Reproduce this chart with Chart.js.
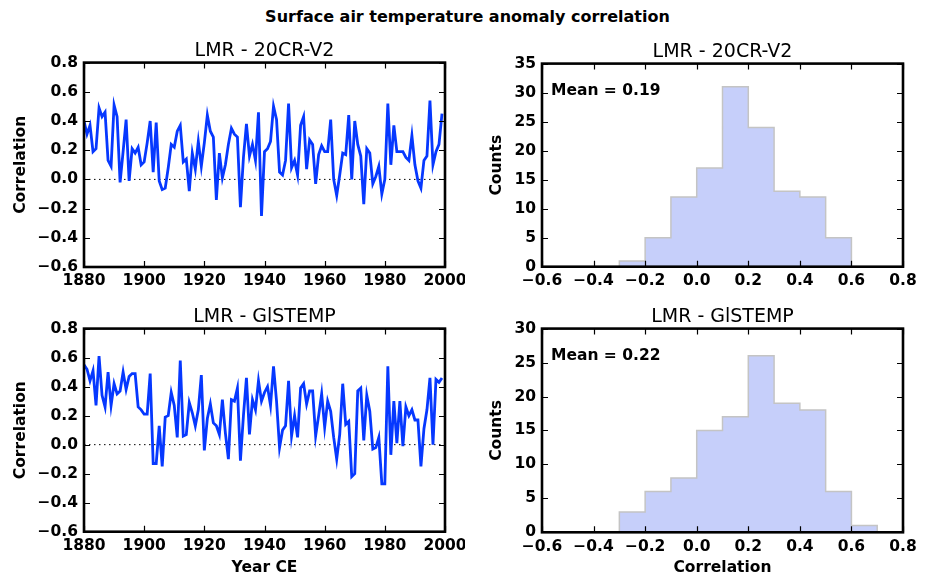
<!DOCTYPE html>
<html>
<head>
<meta charset="utf-8">
<script src="https://cdn.jsdelivr.net/npm/chart.js@4.4.1/dist/chart.umd.min.js"></script>
<style>
html, body { margin: 0; padding: 0; background: #fff; }
body { width: 925px; height: 579px; position: relative; overflow: hidden; font-family: "DejaVu Sans", sans-serif; }
#suptitle { position: absolute; left: 5px; width: 925px; top: 8px; line-height: 18px; text-align: center; font-weight: bold; font-size: 16px; color: #000; }
canvas { position: absolute; }
</style>
</head>
<body>
<div id="suptitle">Surface air temperature anomaly correlation</div>
<canvas id="lineTop" width="465" height="256" style="left:0px;top:34px"></canvas>
<canvas id="lineBottom" width="465" height="279" style="left:0px;top:300px"></canvas>
<canvas id="histTop" width="455" height="255" style="left:470px;top:35px"></canvas>
<canvas id="histBottom" width="455" height="279" style="left:470px;top:300px"></canvas>
<script>
// 数据：1880-1999 逐年相关系数
const firstYear = 1880;
const years = Array.from({ length: 120 }, (_, i) => firstYear + i);

const corr20CR = [
    0.40, 0.31, 0.37, 0.19, 0.21, 0.49, 0.43, 0.46, 0.13, 0.09,
    0.51, 0.43, -0.02, 0.19, 0.41, -0.01, 0.21, 0.18, 0.22, 0.10,
    0.12, 0.25, 0.40, 0.05, 0.39, -0.01, -0.07, -0.06, 0.08, 0.24,
    0.22, 0.33, 0.37, 0.12, 0.14, -0.08, 0.18, 0.07, 0.26, 0.09,
    0.25, 0.44, 0.33, 0.29, -0.14, 0.18, 0.01, 0.10, 0.24, 0.35,
    0.31, 0.29, -0.19, 0.15, 0.38, 0.16, 0.24, 0.13, 0.46, -0.25,
    0.19, 0.21, 0.26, 0.50, 0.41, 0.05, 0.03, 0.13, 0.52, 0.08,
    0.13, 0.03, 0.37, 0.43, 0.07, 0.27, 0.24, -0.03, 0.17, 0.23,
    0.19, 0.19, 0.41, 0.00, -0.11, 0.03, 0.18, 0.17, 0.44, 0.00,
    0.40, 0.24, 0.16, -0.17, 0.21, 0.18, -0.03, 0.02, 0.09, -0.10,
    0.00, 0.52, 0.10, 0.37, 0.19, 0.19, 0.19, 0.15, 0.13, 0.30,
    0.10, -0.01, -0.06, 0.13, 0.16, 0.54, 0.10, 0.19, 0.24, 0.45
];

const corrGIS = [
    0.55, 0.52, 0.44, 0.51, 0.27, 0.61, 0.34, 0.26, 0.50, 0.27,
    0.42, 0.35, 0.37, 0.50, 0.38, 0.47, 0.49, 0.49, 0.26, 0.24,
    0.21, 0.21, 0.49, -0.13, -0.13, 0.13, -0.15, 0.19, 0.20, 0.36,
    0.27, 0.05, 0.58, 0.06, 0.07, 0.29, 0.22, 0.13, 0.24, 0.48,
    -0.04, 0.18, 0.28, 0.15, 0.13, 0.07, 0.31, 0.08, -0.10, 0.31,
    0.30, 0.39, -0.11, 0.20, 0.46, 0.07, 0.31, 0.24, 0.44, 0.30,
    0.36, 0.40, 0.27, 0.54, 0.30, -0.02, 0.10, 0.13, 0.44, 0.06,
    0.20, 0.05, 0.39, 0.42, 0.28, 0.37, 0.37, 0.06, 0.20, 0.35,
    0.12, 0.30, 0.23, 0.05, -0.10, 0.07, 0.42, 0.14, 0.16, -0.22,
    -0.20, 0.37, 0.39, 0.03, 0.34, 0.23, -0.03, -0.02, 0.05, -0.27,
    -0.27, 0.54, -0.07, 0.30, 0.01, 0.30, -0.01, 0.26, 0.20, 0.24,
    0.17, 0.17, -0.15, 0.11, 0.24, 0.46, 0.00, 0.45, 0.43, 0.46
];

// 直方图：区间左边界 + 计数
const binEdges20CR = [-0.3, -0.2, -0.1, 0.0, 0.1, 0.2, 0.3, 0.4, 0.5, 0.6];
const counts20CR = [1, 5, 12, 17, 31, 24, 13, 12, 5];
const binEdgesGIS = [-0.3, -0.2, -0.1, 0.0, 0.1, 0.2, 0.3, 0.4, 0.5, 0.6, 0.7];
const countsGIS = [3, 6, 8, 15, 17, 26, 19, 18, 6, 1];

const mean20CR = '0.19';
const meanGIS = '0.22';

const yearTicks = [1880, 1900, 1920, 1940, 1960, 1980, 2000];

const FONT = '"DejaVu Sans", sans-serif';
const LINE_BLUE = '#0638ff';
const HIST_FILL = '#c6cffa';
const HIST_EDGE = '#c4c4c4';

function fmtTick(v, digits) {
    if (Math.abs(v) < 1e-9) v = 0;
    return v.toFixed(digits).replace('-', '\u2212');
}

// 画边框和向内的刻度
const frameTicks = {
    id: 'frameTicks',
    afterDraw(chart) {
        const { ctx, chartArea: a, scales } = chart;
        ctx.save();
        ctx.strokeStyle = '#000';
        ctx.lineWidth = 1.2;
        ctx.beginPath();
        scales.x.ticks.forEach(t => {
            const px = Math.round(scales.x.getPixelForValue(t.value)) + 0.5;
            ctx.moveTo(px, a.bottom); ctx.lineTo(px, a.bottom - 6);
            ctx.moveTo(px, a.top); ctx.lineTo(px, a.top + 6);
        });
        scales.y.ticks.forEach(t => {
            const py = Math.round(scales.y.getPixelForValue(t.value)) + 0.5;
            ctx.moveTo(a.left, py); ctx.lineTo(a.left + 6, py);
            ctx.moveTo(a.right, py); ctx.lineTo(a.right - 6, py);
        });
        ctx.stroke();
        ctx.lineWidth = 2.6;
        ctx.strokeRect(a.left, a.top, a.right - a.left, a.bottom - a.top);
        ctx.restore();
    }
};

// 子图标题，居中于绘图区上方
const panelTitle = {
    id: 'panelTitle',
    afterDraw(chart, args, opts) {
        if (!opts || !opts.text) return;
        const { ctx, chartArea: a } = chart;
        ctx.save();
        ctx.font = '19px ' + FONT;
        ctx.fillStyle = '#000';
        ctx.textAlign = 'center';
        ctx.textBaseline = 'middle';
        ctx.fillText(opts.text, (a.left + a.right) / 2, a.top - 12);
        ctx.restore();
    }
};

// 直方图左上角的均值文字
const meanLabel = {
    id: 'meanLabel',
    afterDraw(chart, args, opts) {
        if (!opts || !opts.text) return;
        const { ctx, chartArea: a } = chart;
        ctx.save();
        ctx.font = 'bold 15.5px ' + FONT;
        ctx.fillStyle = '#000';
        ctx.textAlign = 'left';
        ctx.textBaseline = 'alphabetic';
        ctx.fillText(opts.text, a.left + 9, a.top + 31);
        ctx.restore();
    }
};

Chart.register(frameTicks, panelTitle, meanLabel);

function tickFont() {
    return { family: FONT, size: 15.5, weight: 'bold' };
}

// 固定坐标轴尺寸，去掉标签引起的额外留白
function fixX(height) {
    return function (scale) {
        scale.height = height;
        scale.paddingLeft = 0;
        scale.paddingRight = 0;
    };
}
function fixY(width) {
    return function (scale) {
        scale.width = width;
        scale.paddingTop = 0;
        scale.paddingBottom = 0;
    };
}

function makeLineChart(id, title, values, xAxisHeight, showXTitle) {
    const ctx = document.getElementById(id);
    const points = years.map((y, i) => ({ x: y, y: values[i] }));
    return new Chart(ctx, {
        type: 'line',
        data: {
            datasets: [
                {
                    data: points,
                    borderColor: LINE_BLUE,
                    borderWidth: 2.8,
                    pointRadius: 0,
                    tension: 0,
                    fill: false
                },
                {
                    data: [{ x: 1880, y: 0 }, { x: 2000, y: 0 }],
                    borderColor: '#000',
                    borderWidth: 1,
                    borderDash: [1.5, 3.5],
                    pointRadius: 0,
                    fill: false
                }
            ]
        },
        options: {
            responsive: false,
            animation: false,
            events: [],
            layout: { padding: { left: 0, right: 20, top: 28.6, bottom: 0 } },
            scales: {
                x: {
                    type: 'linear',
                    min: 1880,
                    max: 2000,
                    afterBuildTicks(scale) {
                        scale.ticks = yearTicks.map(v => ({ value: v }));
                    },
                    afterFit: fixX(xAxisHeight),
                    grid: { display: false, drawTicks: false },
                    border: { display: false },
                    ticks: {
                        color: '#000',
                        font: tickFont(),
                        padding: 5,
                        maxRotation: 0,
                        autoSkip: false,
                        callback: v => String(v)
                    },
                    title: {
                        display: showXTitle,
                        text: 'Year CE',
                        color: '#000',
                        font: tickFont(),
                        padding: { top: 0, bottom: 1.7 }
                    }
                },
                y: {
                    min: -0.6,
                    max: 0.8,
                    ticks: {
                        stepSize: 0.2,
                        color: '#000',
                        font: tickFont(),
                        padding: 6,
                        callback: v => fmtTick(v, 1)
                    },
                    afterFit: fixY(84),
                    grid: { display: false, drawTicks: false },
                    border: { display: false },
                    title: {
                        display: true,
                        text: 'Correlation',
                        color: '#000',
                        font: tickFont(),
                        padding: { top: 11.5, bottom: 0 }
                    }
                }
            },
            plugins: {
                legend: { display: false },
                tooltip: { enabled: false },
                title: { display: false },
                panelTitle: { text: title }
            }
        }
    });
}

function makeHistChart(id, title, edges, counts, yMax, meanText, xAxisHeight, showXTitle) {
    const ctx = document.getElementById(id);
    // 阶梯轮廓：从0起，每个左边界取该区间计数，最后回到0
    const points = [{ x: edges[0], y: 0 }];
    counts.forEach((c, i) => points.push({ x: edges[i], y: c }));
    points.push({ x: edges[edges.length - 1], y: 0 });
    return new Chart(ctx, {
        type: 'line',
        data: {
            datasets: [{
                data: points,
                stepped: 'before',
                borderColor: HIST_EDGE,
                borderWidth: 1.5,
                backgroundColor: HIST_FILL,
                pointRadius: 0,
                fill: 'origin'
            }]
        },
        options: {
            responsive: false,
            animation: false,
            events: [],
            layout: { padding: { left: 0, right: 22, top: 28.6, bottom: 0 } },
            scales: {
                x: {
                    type: 'linear',
                    min: -0.6,
                    max: 0.8,
                    ticks: {
                        stepSize: 0.2,
                        color: '#000',
                        font: tickFont(),
                        padding: 5,
                        maxRotation: 0,
                        autoSkip: false,
                        callback: v => fmtTick(v, 1)
                    },
                    afterFit: fixX(xAxisHeight),
                    grid: { display: false, drawTicks: false },
                    border: { display: false },
                    title: {
                        display: showXTitle,
                        text: 'Correlation',
                        color: '#000',
                        font: tickFont(),
                        padding: { top: 0, bottom: 1.7 }
                    }
                },
                y: {
                    min: 0,
                    max: yMax,
                    ticks: {
                        stepSize: 5,
                        color: '#000',
                        font: tickFont(),
                        padding: 6,
                        callback: v => String(v)
                    },
                    afterFit: fixY(72),
                    grid: { display: false, drawTicks: false },
                    border: { display: false },
                    title: {
                        display: true,
                        text: 'Counts',
                        color: '#000',
                        font: tickFont(),
                        padding: { top: 17.7, bottom: 0 }
                    }
                }
            },
            plugins: {
                legend: { display: false },
                tooltip: { enabled: false },
                title: { display: false },
                panelTitle: { text: title },
                meanLabel: { text: 'Mean = ' + meanText }
            }
        }
    });
}

makeLineChart('lineTop', 'LMR - 20CR-V2', corr20CR, 23, false);
makeLineChart('lineBottom', 'LMR - GlSTEMP', corrGIS, 47.3, true);
makeHistChart('histTop', 'LMR - 20CR-V2', binEdges20CR, counts20CR, 35, mean20CR, 23.3, false);
makeHistChart('histBottom', 'LMR - GlSTEMP', binEdgesGIS, countsGIS, 30, meanGIS, 46.7, true);
</script>
</body>
</html>
